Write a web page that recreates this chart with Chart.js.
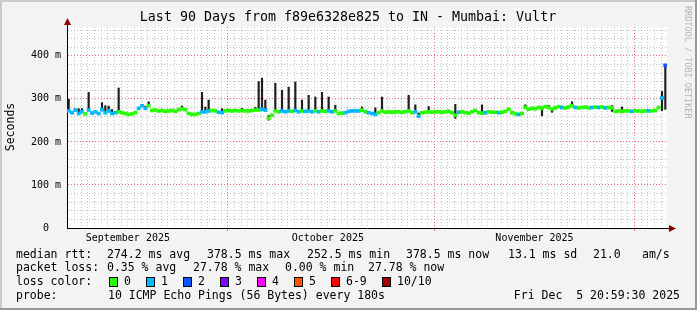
<!DOCTYPE html>
<html>
<head>
<meta charset="utf-8">
<script src="https://cdn.jsdelivr.net/npm/chart.js@4.4.1/dist/chart.umd.min.js"></script>
<style>
  html, body { margin: 0; padding: 0; background: #f3f3f3; }
  #wrap { width: 697px; height: 310px; }
</style>
</head>
<body>
<div id="wrap"><canvas id="ShowChart" width="697" height="310"></canvas></div>
<script>
var Title = "Last 90 Days from f89e6328e825 to IN - Mumbai: Vultr"
// one sample every 12h, x in days from Sep 6 21:00
var Day_Start = 0.25, Day_Step = 0.5
var Median = [
  272,268,274,266,270,265,274,267,270,266,
  275,268,272,266,268,270,268,266,264,265,
  268,278,284,278,284,273,274,272,273,271,
  272,273,271,275,277,275,266,264,264,266,
  270,270,272,273,272,269,268,272,273,272,
  273,272,273,272,272,273,274,274,276,274,
  255,262,272,270,272,270,272,271,273,270,
  272,271,272,270,272,270,272,271,272,270,
  272,266,267,268,271,272,272,272,274,270,
  268,266,264,268,272,269,270,269,270,270,
  269,270,272,268,270,260,268,269,270,269,
  270,270,269,270,271,268,262,269,270,268,
  267,270,273,268,267,268,270,269,269,268,
  269,271,276,268,265,264,266,280,276,278,
  277,280,278,282,280,276,279,282,280,279,
  281,284,280,279,280,281,279,280,281,280,
  281,279,280,279,271,272,271,272,272,271,
  272,272,271,272,272,272,273,280,302,378
]
var Loss = [
  1,1,1,1,1,0,1,1,1,1,
  1,1,1,1,1,0,0,0,0,0,
  0,1,1,1,0,0,0,0,0,0,
  0,0,0,0,0,0,0,0,0,0,
  1,1,1,0,0,1,1,0,0,0,
  0,0,0,0,0,0,0,0,1,1,
  0,0,0,0,1,1,1,0,1,1,
  0,1,1,1,0,1,0,0,1,1,
  0,0,0,1,1,1,1,1,0,0,
  1,1,1,0,0,0,0,0,0,0,
  0,0,0,0,1,1,0,0,0,0,
  0,0,0,0,0,0,0,1,0,0,
  0,0,0,0,0,1,0,0,0,1,
  0,0,0,0,0,1,0,0,0,0,
  0,0,0,0,0,0,0,0,1,0,
  0,0,1,0,0,0,0,1,0,1,
  0,1,0,0,0,0,0,0,0,1,
  0,0,0,0,1,0,0,0,1,2
]
// smoke spikes: sample index, top, bottom (null = median)
var Spike_Index  = [0,3,4,6,10,11,12,13,15,22,23,24,34,40,41,42,46,52,56,57,58,59,60,62,64,66,68,70,72,74,76,78,80,88,92,94,102,104,105,108,116,124,137,142,144,145,151,163,166,178,179]
var Spike_Top    = [300,278,278,316,292,285,284,276,326,288,284,294,284,316,282,298,278,279,281,341,349,298,262,337,321,328,340,298,309,305,316,305,286,282,280,305,309,287,268,283,288,287,287,282,286,278,294,285,282,318,380]
var Spike_Bottom = [null,null,null,null,null,null,null,null,null,null,null,null,null,null,null,null,null,null,null,null,null,null,250,null,null,null,null,null,null,null,null,null,null,null,null,null,null,null,256,null,254,null,null,260,null,268,null,270,null,272,275]

var Loss_Colors = ["#26ff00","#00b8ff","#0059ff","#7e00ff","#ff00ff","#ff5500","#ff0000","#a10000"]
var Loss_Labels = ["0","1","2","3","4","5","6-9","10/10"]
var Month_Labels = ["September 2025","October 2025","November 2025"]
var Month_Label_Day = [9.125, 39.125, 70.125]
var Month_Start_Day = [24.125, 55.125, 85.125]
var Rtt_Stats  = ["274.2 ms avg","378.5 ms max","252.5 ms min","378.5 ms now","13.1 ms sd","21.0","am/s"]
var Loss_Stats = ["0.35 % avg","27.78 % max","0.00 % min","27.78 % now"]
var Probe_Text = "10 ICMP Echo Pings (56 Bytes) every 180s"
var Date_Text  = "Fri Dec  5 20:59:30 2025"

var MONO = "'DejaVu Sans Mono', monospace"
var GRID_MINOR = "rgba(150,150,150,0.55)", GRID_MAJOR = "rgba(240,80,80,0.8)"
var ctx = document.getElementById("ShowChart").getContext("2d")

function near(v, list){
  for (var i = 0; i < list.length; i++){
    if (Math.abs(v - list[i]) < 0.01) return i
  }
  return -1
}

var Median_Bars = Median.map(function(m, i){
  return {x: Day_Start + Day_Step * i, y: [m - 3.5, m + 3.5]}
})
var Smoke_Bars = Spike_Index.map(function(i, k){
  var lo = Spike_Bottom[k] == null ? Median[i] : Spike_Bottom[k]
  return {x: Day_Start + Day_Step * i, y: [lo, Spike_Top[k]]}
})

var Deco = {
  id: "deco",
  beforeDraw: function(chart){
    var c = chart.ctx, a = chart.chartArea
    c.save()
    c.fillStyle = "#f3f3f3"
    c.fillRect(0, 0, 697, 310)
    c.fillStyle = "#ffffff"
    c.fillRect(a.left, a.top, a.right - a.left, a.bottom - a.top)
    c.fillStyle = "#cbcbcb"
    c.fillRect(0, 0, 697, 2)
    c.fillRect(0, 0, 2, 310)
    c.fillStyle = "#999999"
    c.fillRect(695, 0, 2, 310)
    c.fillRect(0, 308, 697, 2)
    c.restore()
  },
  afterDraw: function(chart){
    var c = chart.ctx, a = chart.chartArea
    c.save()
    // axis extensions + arrows
    c.strokeStyle = "#000"
    c.lineWidth = 1
    c.beginPath()
    c.moveTo(67.5, a.top); c.lineTo(67.5, 24)
    c.moveTo(a.right, 228.5); c.lineTo(670, 228.5)
    c.stroke()
    c.fillStyle = "#8b0000"
    c.beginPath()
    c.moveTo(67.5, 18); c.lineTo(64, 25); c.lineTo(71, 25); c.closePath(); c.fill()
    c.beginPath()
    c.moveTo(676, 228.5); c.lineTo(669, 225); c.lineTo(669, 232); c.closePath(); c.fill()

    c.fillStyle = "#000"
    c.textBaseline = "middle"
    c.textAlign = "center"
    c.font = "13.3px " + MONO
    c.fillText(Title, 348, 18)

    c.save()
    c.translate(11, 127)
    c.rotate(-Math.PI / 2)
    c.font = "11.5px " + MONO
    c.fillText("Seconds", 0, 0)
    c.restore()

    c.save()
    c.translate(687, 6)
    c.rotate(Math.PI / 2)
    c.textAlign = "left"
    c.fillStyle = "#b4b4b4"
    c.font = "8.5px " + MONO
    c.fillText("RRDTOOL / TOBI OETIKER", 0, 0)
    c.restore()

    c.textAlign = "left"
    c.font = "11.5px " + MONO
    c.fillText("median rtt:", 16, 255)
    var rx = [107, 207, 307, 406, 508, 593, 642]
    for (var i = 0; i < Rtt_Stats.length; i++) c.fillText(Rtt_Stats[i], rx[i], 255)
    c.fillText("packet loss:", 16, 268)
    var lx = [107, 193, 285, 368]
    for (var i = 0; i < Loss_Stats.length; i++) c.fillText(Loss_Stats[i], lx[i], 268)
    c.fillText("loss color:", 16, 282)
    var bx = [109, 146, 183, 220, 257, 294, 331, 382]
    for (var i = 0; i < Loss_Colors.length; i++){
      c.fillStyle = Loss_Colors[i]
      c.fillRect(bx[i], 277, 9, 10)
      c.strokeStyle = "#000"
      c.strokeRect(bx[i] + 0.5, 277.5, 8, 9)
      c.fillStyle = "#000"
      c.fillText(Loss_Labels[i], bx[i] + 15, 282)
    }
    c.fillText("probe:", 16, 296)
    c.fillText(Probe_Text, 108, 296)
    c.textAlign = "right"
    c.fillText(Date_Text, 680, 296)
    c.restore()
  }
}

Chart.defaults.font.family = MONO
var ChartObject = new Chart(ctx, {
  type: "bar",
  data: {
    datasets: [
      {
        label: "median",
        data: Median_Bars,
        backgroundColor: Loss.map(function(l){ return Loss_Colors[l] }),
        borderWidth: 0,
        borderSkipped: false,
        grouped: false,
        barPercentage: 1,
        categoryPercentage: 1,
        order: 0
      },
      {
        label: "smoke",
        data: Smoke_Bars,
        backgroundColor: "#1e1e1e",
        borderWidth: 0,
        borderSkipped: false,
        grouped: false,
        barPercentage: 0.65,
        categoryPercentage: 1,
        order: 1
      }
    ]
  },
  options: {
    responsive: false,
    animation: false,
    devicePixelRatio: 1,
    layout: { padding: { left: 0, top: 27, right: 30, bottom: 0 } },
    plugins: { legend: { display: false }, tooltip: { enabled: false }, title: { display: false } },
    scales: {
      x: {
        type: "linear",
        min: 0,
        max: 90,
        offset: false,
        afterFit: function(s){ s.height = 82 },
        afterBuildTicks: function(s){
          var t = []
          for (var k = 0; k < 90; k++) t.push({value: 0.125 + k})
          s.ticks = t
        },
        grid: {
          offset: false,
          tickLength: 3,
          color: function(c){
            if (!c.tick) return "rgba(0,0,0,0)"
            return near(c.tick.value, Month_Start_Day) >= 0 ? GRID_MAJOR : GRID_MINOR
          },
          tickColor: function(c){
            if (!c.tick) return "rgba(0,0,0,0)"
            return near(c.tick.value, Month_Start_Day) >= 0 ? GRID_MAJOR : "rgba(0,0,0,0)"
          }
        },
        border: { color: "#000", width: 1, dash: [1, 2] },
        ticks: {
          autoSkip: false,
          maxRotation: 0,
          minRotation: 0,
          padding: 1,
          color: "#000",
          font: { size: 10, family: MONO },
          callback: function(v){
            var i = near(v, Month_Label_Day)
            return i >= 0 ? Month_Labels[i] : ""
          }
        }
      },
      y: {
        type: "linear",
        min: 0,
        max: 467,
        afterFit: function(s){ s.width = 67 },
        afterBuildTicks: function(s){
          var t = []
          for (var v = 0; v <= 460; v += 20) t.push({value: v})
          s.ticks = t
        },
        grid: {
          drawTicks: false,
          color: function(c){
            if (!c.tick || c.tick.value === 0) return "rgba(0,0,0,0)"
            return c.tick.value % 100 === 0 ? GRID_MAJOR : GRID_MINOR
          }
        },
        border: { color: "#000", width: 1, dash: [1, 2] },
        ticks: {
          autoSkip: false,
          padding: 6,
          color: "#000",
          font: { size: 10, family: MONO },
          callback: function(v){
            if (v % 100 !== 0) return ""
            return v === 0 ? "0  " : v + " m"
          }
        }
      }
    }
  },
  plugins: [Deco]
})
</script>
</body>
</html>
